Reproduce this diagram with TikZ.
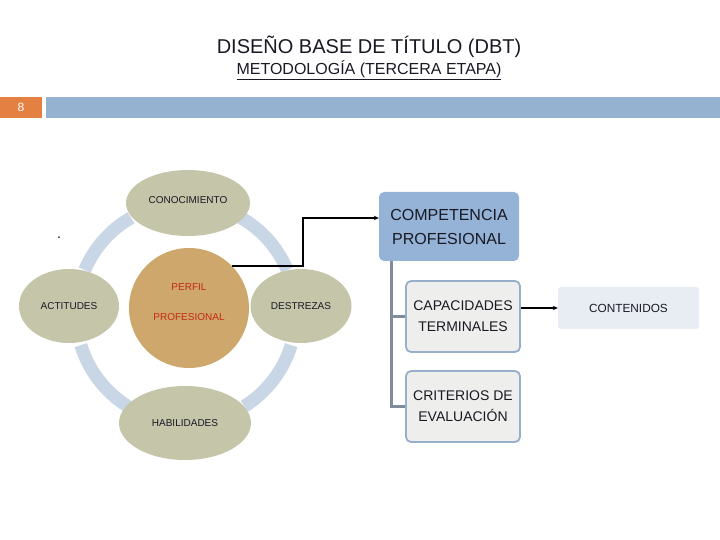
\documentclass[tikz,border=0pt]{standalone}
\usepackage{fontspec}
\setmainfont{Liberation Sans}
\usetikzlibrary{arrows.meta,calc,shapes.geometric}
\definecolor{slideorange}{RGB}{227,128,66}
\definecolor{barblue}{RGB}{149,179,208}
\definecolor{petalgray}{RGB}{197,197,170}
\definecolor{coretan}{RGB}{205,167,107}
\definecolor{ringblue}{RGB}{200,214,230}
\definecolor{compblue}{RGB}{149,179,215}
\definecolor{subfill}{RGB}{238,238,236}
\definecolor{subedge}{RGB}{150,176,204}
\definecolor{contfill}{RGB}{232,237,244}
\definecolor{trunkgray}{RGB}{128,140,156}
\definecolor{textdark}{RGB}{25,25,35}
\definecolor{corered}{RGB}{200,40,20}

\begin{document}
\begin{tikzpicture}[x=1pt,y=1pt,>=Stealth,
  petal/.style={ellipse,fill=petalgray,inner sep=0pt,text=textdark,
    font=\fontsize{10}{10}\selectfont},
  subbox/.style={rounded corners=5pt,fill=subfill,draw=subedge,line width=1.8pt,
    minimum width=114pt,minimum height=71pt,align=center,text=textdark,
    font=\fontsize{14}{21}\selectfont},
  link/.style={line width=2pt,-{Stealth[length=5pt,width=4.5pt]}}]
  \useasboundingbox (0,0) rectangle (720,540);

  % --- Title ---
  \node[font=\fontsize{20}{22}\selectfont,text=textdark] (title) at (369,493)
    {DISEÑO BASE DE TÍTULO (DBT)};
  \node[font=\fontsize{16}{18}\selectfont,text=textdark] (subtitle) at (369,470)
    {\underline{METODOLOGÍA (TERCERA ETAPA)}};

  % --- Slide number bar ---
  \fill[slideorange] (0,422) rectangle (42,443);
  \fill[barblue] (46,422) rectangle (720,443);
  \node[font=\fontsize{12}{12}\selectfont,text=white] (num) at (21,432.5) {8};

  % --- Ring behind the petals ---
  \coordinate (R) at (186,227);
  \foreach \a/\b in {23/60,120/157,197/238,302/343} {
    \draw[ringblue,line width=13pt] ($(R)+(\a:110)$) arc [start angle=\a, end angle=\b, radius=110];
  }

  % --- Petals ---
  \node[petal,minimum width=124pt,minimum height=66pt] (con) at (188,337) {};
  \node[petal] at (188,340) {CONOCIMIENTO};
  \node[petal,minimum width=100pt,minimum height=74pt] (act) at (69,234) {ACTITUDES};
  \node[petal,minimum width=101pt,minimum height=74pt] (des) at (301,234) {DESTREZAS};
  \node[petal,minimum width=132pt,minimum height=74pt] (hab) at (185,117) {HABILIDADES};

  % --- Core ---
  \node[circle,fill=coretan,minimum size=120pt,inner sep=0pt] (perfil) at (189,232) {};
  \node[font=\fontsize{10}{10}\selectfont,text=corered] at (189,253) {PERFIL};
  \node[font=\fontsize{10}{10}\selectfont,text=corered] at (189,223) {PROFESIONAL};
  \node[font=\fontsize{14}{14}\selectfont] (dot) at (59,302) {.};

  % --- Competence tree ---
  \node[rounded corners=5pt,fill=compblue,minimum width=140pt,minimum height=69pt,
    align=center,text=textdark,font=\fontsize{16}{24}\selectfont] (comp) at (449,313.5)
    {COMPETENCIA\\PROFESIONAL};
  \node[subbox] (cap) at (463,223.5) {CAPACIDADES\\TERMINALES};
  \node[subbox] (crit) at (463,133.5) {CRITERIOS DE\\EVALUACIÓN};
  \node[rounded corners=3pt,fill=contfill,minimum width=141pt,minimum height=42pt,
    text=textdark,font=\fontsize{11.8}{12}\selectfont] (cont) at (628.5,232) {CONTENIDOS};

  \coordinate (trunk) at ([xshift=13pt]comp.south west);
  \draw[trunkgray,line width=3pt] (trunk) |- (cap.west);
  \draw[trunkgray,line width=3pt] (trunk) |- (crit.west);

  % --- Connectors ---
  \draw[link] (perfil.44) -- ++(71,0) |- ([yshift=8.5pt]comp.west);
  \draw[link] (cap.east |- cont.west) -- (cont.west);

\end{tikzpicture}
\end{document}
